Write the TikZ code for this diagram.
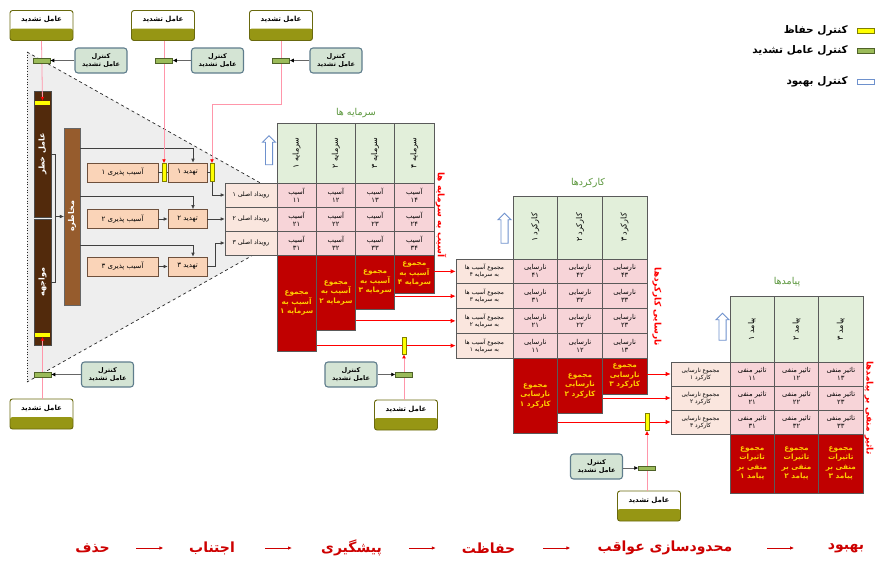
\documentclass[tikz,border=0pt]{standalone}
\usepackage{fontspec}
\usepackage{graphicx}
\usepackage{tikz}
\usetikzlibrary{arrows.meta,shapes.arrows,calc}
\newfontfamily\farsi[Script=Arabic]{DejaVu Sans}
\TeXXeTstate=1

\definecolor{olivebar}{RGB}{150,150,20}
\definecolor{ctrlfill}{RGB}{212,228,212}
\definecolor{ctrldraw}{RGB}{95,125,140}
\definecolor{gbarfill}{RGB}{155,187,89}
\definecolor{gbardraw}{RGB}{79,98,40}
\definecolor{ybarfill}{RGB}{255,255,0}
\definecolor{ybardraw}{RGB}{128,128,0}
\definecolor{hdrgreen}{RGB}{226,239,218}
\definecolor{cellpink}{RGB}{247,212,216}
\definecolor{sumred}{RGB}{192,0,0}
\definecolor{sumtxt}{RGB}{255,204,0}
\definecolor{lblpeach}{RGB}{250,230,222}
\definecolor{boxpeach}{RGB}{250,212,184}
\definecolor{boxdraw}{RGB}{110,80,60}
\definecolor{darkbrown}{RGB}{82,42,12}
\definecolor{midbrown}{RGB}{150,92,45}
\definecolor{trigray}{RGB}{238,238,238}
\definecolor{pinkline}{RGB}{255,150,170}
\definecolor{titlegreen}{RGB}{90,150,60}
\definecolor{bluearr}{RGB}{110,145,205}
\definecolor{gridgray}{RGB}{90,90,90}
\definecolor{botred}{RGB}{205,0,0}

\tikzset{
  tashdid/.style={draw=olivebar!70!black, line width=0.9pt, rounded corners=2.5pt, fill=white,
    minimum width=63, minimum height=30, inner sep=0, text height=5pt, text depth=13pt,
    font=\farsi\bfseries\fontsize{7}{8}\selectfont,
    path picture={\fill[olivebar] (path picture bounding box.south west) rectangle
      ($(path picture bounding box.south east)!0.4!(path picture bounding box.north east)$);}},
  ctrlbox/.style={draw=ctrldraw, line width=1.1pt, rounded corners=3pt, fill=ctrlfill,
    minimum width=52, minimum height=25, inner sep=0, align=center,
    font=\farsi\bfseries\fontsize{6.5}{8}\selectfont},
  gbar/.style={draw=gbardraw, line width=0.5pt, fill=gbarfill, minimum width=17, minimum height=4.5, inner sep=0},
  ybar/.style={draw=ybardraw, line width=0.5pt, fill=ybarfill, minimum width=4.5, minimum height=17, inner sep=0},
  ystripe/.style={fill=ybarfill, minimum width=15, minimum height=3.5, inner sep=0},
  brownbar/.style={draw=black!70, fill=darkbrown, text=white, minimum width=17, minimum height=126,
    inner sep=0, font=\farsi\bfseries\fontsize{8}{9}\selectfont},
  hazbar/.style={draw=black!60, fill=midbrown, text=white, minimum width=16, minimum height=177,
    inner sep=0, font=\farsi\bfseries\fontsize{8}{9}\selectfont},
  peachbox/.style={draw=boxdraw, line width=0.6pt, fill=boxpeach, minimum height=19, inner sep=0,
    font=\farsi\fontsize{7}{8}\selectfont},
  evcell/.style={draw=gridgray, line width=0.6pt, fill=lblpeach, minimum width=52, minimum height=24,
    inner sep=0, font=\farsi\fontsize{6.2}{7}\selectfont},
  hcell/.style={draw=gridgray, line width=0.6pt, fill=hdrgreen, inner sep=0, font=\farsi\fontsize{8}{9}\selectfont},
  pcell/.style={draw=gridgray, line width=0.6pt, fill=cellpink, inner sep=0, align=center,
    font=\farsi\fontsize{6.8}{8}\selectfont},
  lcell/.style={draw=gridgray, line width=0.6pt, fill=lblpeach, inner sep=0, align=center,
    font=\farsi\fontsize{5.8}{7}\selectfont},
  sumbox/.style={draw=gridgray, line width=0.6pt, fill=sumred, text=sumtxt, inner sep=0, align=center,
    font=\farsi\bfseries\fontsize{7.3}{9.5}\selectfont},
  ahcell/.style={hcell, minimum width=39.25, minimum height=60},
  apcell/.style={pcell, minimum width=39.25, minimum height=24},
  khcell/.style={hcell, minimum width=44.67, minimum height=63},
  kpcell/.style={pcell, minimum width=44.67, minimum height=24.75},
  phcell/.style={hcell, minimum width=44.33, minimum height=66},
  ppcell/.style={pcell, minimum width=44.33, minimum height=24},
  ttl/.style={text=titlegreen, font=\farsi\fontsize{9.5}{10}\selectfont},
  sidelbl/.style={text=red, font=\farsi\bfseries\fontsize{9}{10}\selectfont},
  bahbood/.style={single arrow, draw=bluearr, line width=0.8pt, fill=white, shape border rotate=90,
    inner sep=3.2pt, minimum height=29, minimum width=13, single arrow head extend=3pt},
  redarr/.style={draw=red, line width=0.8pt, -{Latex[length=5pt,width=4.5pt]}},
  pinkarr/.style={draw=pinkline, line width=0.8pt, -{Latex[color=red,length=4pt,width=4pt]}},
  blkarr/.style={draw=black!75, line width=0.6pt, -{Latex[length=4pt,width=3.5pt]}},
  ctrlarr/.style={draw=black!60, line width=0.6pt, -{Latex[color=black,length=4pt,width=4pt]}},
  botword/.style={text=botred, font=\farsi\bfseries\fontsize{14}{15}\selectfont},
  botarr/.style={draw=botred, line width=0.8pt, -{Latex[length=4pt,width=3.5pt]}},
  legtxt/.style={anchor=east, font=\farsi\bfseries\fontsize{10.5}{11}\selectfont}
}

\begin{document}
\begin{tikzpicture}[x=1pt,y=1pt,yscale=-1,xscale=1]
\useasboundingbox (0,0) rectangle (875,562);

%Shape: gray wedge
\fill[trigray] (27,52) -- (321,217) -- (27,382) -- cycle;
\draw[dashed, gray!30!black, line width=0.7pt] (27,52) -- (321,217) -- (27,382);
\draw[dotted, gray!30!black, line width=0.7pt] (27,52) -- (27,382);

% aggravating factors
\node[tashdid] (agg1) at (41.5,25.5) {\beginR عامل تشدید\endR};
\node[tashdid] (agg2) at (163,25.5) {\beginR عامل تشدید\endR};
\node[tashdid] (agg3) at (281,25.5) {\beginR عامل تشدید\endR};
\node[tashdid] (agg4) at (41.5,414) {\beginR عامل تشدید\endR};
\node[tashdid] (agg5) at (406,415) {\beginR عامل تشدید\endR};
\node[tashdid] (agg6) at (649,506) {\beginR عامل تشدید\endR};

% controls of aggravating factors
\node[ctrlbox] (ctrl1) at (101,60.5) {\beginR کنترل\endR\\\beginR عامل تشدید\endR};
\node[ctrlbox] (ctrl2) at (217.5,60.5) {\beginR کنترل\endR\\\beginR عامل تشدید\endR};
\node[ctrlbox] (ctrl3) at (336,60.5) {\beginR کنترل\endR\\\beginR عامل تشدید\endR};
\node[ctrlbox] (ctrl4) at (107.5,374.5) {\beginR کنترل\endR\\\beginR عامل تشدید\endR};
\node[ctrlbox] (ctrl5) at (351,374.5) {\beginR کنترل\endR\\\beginR عامل تشدید\endR};
\node[ctrlbox] (ctrl6) at (596.5,466.5) {\beginR کنترل\endR\\\beginR عامل تشدید\endR};

% risk factor, exposure, hazard
\node[brownbar] (riskf) at (42.5,154) {\rotatebox{90}{\beginR عامل خطر\endR}};
\node[brownbar] (expo) at (42.5,282) {\rotatebox{90}{\beginR مواجهه\endR}};
\node[ystripe] (ys1) at (42.5,102.75) {};
\node[ystripe] (ys2) at (42.5,334.75) {};
\node[hazbar] (haz) at (72,216.5) {\rotatebox{90}{\beginR مخاطره\endR}};

% vulnerabilities and threats
\node[peachbox, minimum width=71] (vul1) at (122.5,172.5) {\beginR آسیب پذیری ۱\endR};
\node[peachbox, minimum width=71] (vul2) at (122.5,219) {\beginR آسیب پذیری ۲\endR};
\node[peachbox, minimum width=71] (vul3) at (122.5,266.5) {\beginR آسیب پذیری ۳\endR};
\node[peachbox, minimum width=39] (thr1) at (187.5,172.5) {\beginR تهدید ۱\endR};
\node[peachbox, minimum width=39] (thr2) at (187.5,219) {\beginR تهدید ۲\endR};
\node[peachbox, minimum width=39] (thr3) at (187.5,266.5) {\beginR تهدید ۳\endR};
\node[ybar, minimum height=18] (yb1) at (164,172.5) {};
\node[ybar, minimum height=18] (yb2) at (212,172.5) {};

% main events
\node[evcell] (ev1) at (251,195) {\beginR رویداد اصلی ۱\endR};
\node[evcell] (ev2) at (251,219) {\beginR رویداد اصلی ۲\endR};
\node[evcell] (ev3) at (251,243) {\beginR رویداد اصلی ۳\endR};

% assets table
\node[ttl] (tas) at (356,113) {\beginR سرمایه ها\endR};
\node[ahcell] (ah1) at (296.63,153) {\rotatebox{90}{\beginR سرمایه ۱\endR}};
\node[ahcell] (ah2) at (335.88,153) {\rotatebox{90}{\beginR سرمایه ۲\endR}};
\node[ahcell] (ah3) at (375.13,153) {\rotatebox{90}{\beginR سرمایه ۳\endR}};
\node[ahcell] (ah4) at (414.38,153) {\rotatebox{90}{\beginR سرمایه ۴\endR}};
\node[apcell] (a11) at (296.63,195) {\beginR آسیب\endR\\\beginR ۱۱\endR};
\node[apcell] (a12) at (335.88,195) {\beginR آسیب\endR\\\beginR ۱۲\endR};
\node[apcell] (a13) at (375.13,195) {\beginR آسیب\endR\\\beginR ۱۳\endR};
\node[apcell] (a14) at (414.38,195) {\beginR آسیب\endR\\\beginR ۱۴\endR};
\node[apcell] (a21) at (296.63,219) {\beginR آسیب\endR\\\beginR ۲۱\endR};
\node[apcell] (a22) at (335.88,219) {\beginR آسیب\endR\\\beginR ۲۲\endR};
\node[apcell] (a23) at (375.13,219) {\beginR آسیب\endR\\\beginR ۲۳\endR};
\node[apcell] (a24) at (414.38,219) {\beginR آسیب\endR\\\beginR ۲۴\endR};
\node[apcell] (a31) at (296.63,243) {\beginR آسیب\endR\\\beginR ۳۱\endR};
\node[apcell] (a32) at (335.88,243) {\beginR آسیب\endR\\\beginR ۳۲\endR};
\node[apcell] (a33) at (375.13,243) {\beginR آسیب\endR\\\beginR ۳۳\endR};
\node[apcell] (a34) at (414.38,243) {\beginR آسیب\endR\\\beginR ۳۴\endR};
\node[sumbox, minimum width=39.25, minimum height=96] (as1) at (296.63,303) {\beginR مجموع\endR\\\beginR آسیب به\endR\\\beginR سرمایه ۱\endR};
\node[sumbox, minimum width=39.25, minimum height=75] (as2) at (335.88,292.5) {\beginR مجموع\endR\\\beginR آسیب به\endR\\\beginR سرمایه ۲\endR};
\node[sumbox, minimum width=39.25, minimum height=54] (as3) at (375.13,282) {\beginR مجموع\endR\\\beginR آسیب به\endR\\\beginR سرمایه ۳\endR};
\node[sumbox, minimum width=39.25, minimum height=38] (as4) at (414.38,274) {\beginR مجموع\endR\\\beginR آسیب به\endR\\\beginR سرمایه ۴\endR};
\node[sidelbl] (asl) at (441,215) {\rotatebox{-90}{\beginR آسیب به سرمایه ها\endR}};
\node[bahbood] (bl1) at (269,152) {};

% functions table
\node[ttl] (tkk) at (588,183) {\beginR کارکردها\endR};
\node[khcell] (kh1) at (535.33,227.5) {\rotatebox{90}{\beginR کارکرد ۱\endR}};
\node[khcell] (kh2) at (580,227.5) {\rotatebox{90}{\beginR کارکرد ۲\endR}};
\node[khcell] (kh3) at (624.67,227.5) {\rotatebox{90}{\beginR کارکرد ۳\endR}};
\node[lcell, minimum width=57, minimum height=24.75] (kr1) at (484.5,271.38) {\beginR مجموع آسیب ها\endR\\\beginR به سرمایه ۴\endR};
\node[lcell, minimum width=57, minimum height=24.75] (kr2) at (484.5,296.13) {\beginR مجموع آسیب ها\endR\\\beginR به سرمایه ۳\endR};
\node[lcell, minimum width=57, minimum height=24.75] (kr3) at (484.5,320.88) {\beginR مجموع آسیب ها\endR\\\beginR به سرمایه ۲\endR};
\node[lcell, minimum width=57, minimum height=24.75] (kr4) at (484.5,345.63) {\beginR مجموع آسیب ها\endR\\\beginR به سرمایه ۱\endR};
\node[kpcell] (k11) at (535.33,271.38) {\beginR نارسایی\endR\\\beginR ۴۱\endR};
\node[kpcell] (k12) at (580,271.38) {\beginR نارسایی\endR\\\beginR ۴۲\endR};
\node[kpcell] (k13) at (624.67,271.38) {\beginR نارسایی\endR\\\beginR ۴۳\endR};
\node[kpcell] (k21) at (535.33,296.13) {\beginR نارسایی\endR\\\beginR ۳۱\endR};
\node[kpcell] (k22) at (580,296.13) {\beginR نارسایی\endR\\\beginR ۳۲\endR};
\node[kpcell] (k23) at (624.67,296.13) {\beginR نارسایی\endR\\\beginR ۳۳\endR};
\node[kpcell] (k31) at (535.33,320.88) {\beginR نارسایی\endR\\\beginR ۲۱\endR};
\node[kpcell] (k32) at (580,320.88) {\beginR نارسایی\endR\\\beginR ۲۲\endR};
\node[kpcell] (k33) at (624.67,320.88) {\beginR نارسایی\endR\\\beginR ۲۳\endR};
\node[kpcell] (k41) at (535.33,345.63) {\beginR نارسایی\endR\\\beginR ۱۱\endR};
\node[kpcell] (k42) at (580,345.63) {\beginR نارسایی\endR\\\beginR ۱۲\endR};
\node[kpcell] (k43) at (624.67,345.63) {\beginR نارسایی\endR\\\beginR ۱۳\endR};
\node[sumbox, minimum width=44.67, minimum height=75] (ks1) at (535.33,395.5) {\beginR مجموع\endR\\\beginR نارسایی\endR\\\beginR کارکرد ۱\endR};
\node[sumbox, minimum width=44.67, minimum height=55] (ks2) at (580,385.5) {\beginR مجموع\endR\\\beginR نارسایی\endR\\\beginR کارکرد ۲\endR};
\node[sumbox, minimum width=44.67, minimum height=36] (ks3) at (624.67,376) {\beginR مجموع\endR\\\beginR نارسایی\endR\\\beginR کارکرد ۳\endR};
\node[sidelbl] (ksl) at (657,307) {\rotatebox{-90}{\beginR نارسایی کارکردها\endR}};
\node[bahbood, minimum height=30] (bl2) at (504.5,230) {};

% consequences table
\node[ttl] (tpm) at (787,282) {\beginR پیامدها\endR};
\node[phcell] (ph1) at (752.17,329) {\rotatebox{90}{\beginR پیامد ۱\endR}};
\node[phcell] (ph2) at (796.5,329) {\rotatebox{90}{\beginR پیامد ۲\endR}};
\node[phcell] (ph3) at (840.83,329) {\rotatebox{90}{\beginR پیامد ۳\endR}};
\node[lcell, minimum width=59, minimum height=24] (pr1) at (700.5,374) {\beginR مجموع نارسایی\endR\\\beginR کارکرد ۱\endR};
\node[lcell, minimum width=59, minimum height=24] (pr2) at (700.5,398) {\beginR مجموع نارسایی\endR\\\beginR کارکرد ۲\endR};
\node[lcell, minimum width=59, minimum height=24] (pr3) at (700.5,422) {\beginR مجموع نارسایی\endR\\\beginR کارکرد ۳\endR};
\node[ppcell] (p11) at (752.17,374) {\beginR تاثیر منفی\endR\\\beginR ۱۱\endR};
\node[ppcell] (p12) at (796.5,374) {\beginR تاثیر منفی\endR\\\beginR ۱۲\endR};
\node[ppcell] (p13) at (840.83,374) {\beginR تاثیر منفی\endR\\\beginR ۱۳\endR};
\node[ppcell] (p21) at (752.17,398) {\beginR تاثیر منفی\endR\\\beginR ۲۱\endR};
\node[ppcell] (p22) at (796.5,398) {\beginR تاثیر منفی\endR\\\beginR ۲۲\endR};
\node[ppcell] (p23) at (840.83,398) {\beginR تاثیر منفی\endR\\\beginR ۲۳\endR};
\node[ppcell] (p31) at (752.17,422) {\beginR تاثیر منفی\endR\\\beginR ۳۱\endR};
\node[ppcell] (p32) at (796.5,422) {\beginR تاثیر منفی\endR\\\beginR ۳۲\endR};
\node[ppcell] (p33) at (840.83,422) {\beginR تاثیر منفی\endR\\\beginR ۳۳\endR};
\node[sumbox, minimum width=44.33, minimum height=59] (ps1) at (752.17,463.5) {\beginR مجموع\endR\\\beginR تاثیرات\endR\\\beginR منفی بر\endR\\\beginR پیامد ۱\endR};
\node[sumbox, minimum width=44.33, minimum height=59] (ps2) at (796.5,463.5) {\beginR مجموع\endR\\\beginR تاثیرات\endR\\\beginR منفی بر\endR\\\beginR پیامد ۲\endR};
\node[sumbox, minimum width=44.33, minimum height=59] (ps3) at (840.83,463.5) {\beginR مجموع\endR\\\beginR تاثیرات\endR\\\beginR منفی بر\endR\\\beginR پیامد ۳\endR};
\node[sidelbl] (psl) at (869,408) {\rotatebox{-90}{\beginR تاثیر منفی بر پیامدها\endR}};
\node[bahbood, minimum height=27, minimum width=12] (bl3) at (722.5,328.5) {};

% black connectors
\draw[blkarr] (riskf.east) -- ++(4,0) |- (haz.west);
\draw[blkarr] (expo.east) -- ++(4,0) |- (haz.west);
\draw[blkarr] (haz.east |- 0,148) -| ([xshift=5.5pt]thr1.north);
\draw[blkarr] (haz.east |- 0,196) -| ([xshift=5.5pt]thr2.north);
\draw[blkarr] (haz.east |- 0,245) -| ([xshift=5.5pt]thr3.north);
\draw[black!75, line width=0.6pt] (vul1.east) -- (yb1.west) (yb1.east) -- (thr1.west) (thr1.east) -- (yb2.west);
\draw[blkarr] (yb2.south) |- (ev1.west);
\draw[blkarr] (vul2) -- (thr2);
\draw[blkarr] (thr2) -- (ev2);
\draw[blkarr] (vul3) -- (thr3);
\draw[blkarr] (thr3.east) -- ++(8,0) |- (ev3.west);

% aggravating lines
\draw[pinkarr] (agg1.south) -- (ys1.north);
\draw[pinkarr] (yb1.north |- agg2.south) -- (yb1.north);
\draw[pinkarr] (agg3.south) -- ++(0,63) -| (yb2.north);
\draw[pinkarr] (ys2.south |- agg4.north) -- (ys2.south);

% sums to next tables
\draw[redarr] (as4.east |- kr1.west) -- (kr1.west);
\draw[redarr] (as3.east |- kr2.west) -- (kr2.west);
\draw[redarr] (as2.east |- kr3.west) -- (kr3.west);
\draw[redarr] (as1.east |- kr4.west) -- (kr4.west);
\node[ybar] (yb3) at (404,345.63) {};
\draw[pinkarr] (yb3.south |- agg5.north) -- (yb3.south);
\draw[redarr] (ks3.east |- pr1.west) -- (pr1.west);
\draw[redarr] (ks2.east |- pr2.west) -- (pr2.west);
\draw[redarr] (ks1.east |- pr3.west) -- (pr3.west);
\node[ybar] (yb4) at (647,422) {};
\draw[pinkarr] (yb4.south |- agg6.north) -- (yb4.south);

% aggravating controls
\node[gbar] (gb1) at (41.5,60.5) {};
\node[gbar] (gb2) at (164,60.5) {};
\node[gbar] (gb3) at (281,60.5) {};
\node[gbar] (gb4) at (42.5,374.5) {};
\node[gbar] (gb5) at (404,374.5) {};
\node[gbar] (gb6) at (647,468) {};
\draw[ctrlarr] (ctrl1.west) -- (gb1.east);
\draw[ctrlarr] (ctrl2.west) -- (gb2.east);
\draw[ctrlarr] (ctrl3.west) -- (gb3.east);
\draw[ctrlarr] (ctrl4.west) -- (gb4.east);
\draw[ctrlarr] (ctrl5.east) -- (gb5.west);
\draw[ctrlarr] (ctrl6.east |- gb6.west) -- (gb6.west);

% legend
\node[ybar, minimum width=17, minimum height=5] (lgy) at (866,30.5) {};
\node[gbar, minimum height=5] (lgg) at (866,50.5) {};
\node[draw=bluearr, line width=0.7pt, fill=white, minimum width=17, minimum height=5, inner sep=0] (lgb) at (866,82) {};
\node[legtxt] (lgyt) at ([xshift=-6pt]lgy.west) {\beginR کنترل حفاظ\endR};
\node[legtxt] (lggt) at ([xshift=-6pt]lgg.west) {\beginR کنترل عامل تشدید\endR};
\node[legtxt] (lgbt) at ([xshift=-6pt]lgb.west) {\beginR کنترل بهبود\endR};

% hierarchy row
\node[botword] (w1) at (92.5,548) {\beginR حذف\endR};
\node[botword] (w2) at (212,548) {\beginR اجتناب\endR};
\node[botword] (w3) at (351.5,548) {\beginR پیشگیری\endR};
\node[botword] (w4) at (488.5,548) {\beginR حفاظت\endR};
\node[botword] (w5) at (665,548) {\beginR محدودسازی عواقب\endR};
\node[botword] (w6) at (846,548) {\beginR بهبود\endR};
\draw[botarr] ($(w1.east)!0.5!(w2.west)-(13,0)$) -- ++(27,0);
\draw[botarr] ($(w2.east)!0.5!(w3.west)-(13,0)$) -- ++(27,0);
\draw[botarr] ($(w3.east)!0.5!(w4.west)-(13,0)$) -- ++(27,0);
\draw[botarr] ($(w4.east)!0.5!(w5.west)-(13,0)$) -- ++(27,0);
\draw[botarr] ($(w5.east)!0.5!(w6.west)-(13,0)$) -- ++(27,0);

\end{tikzpicture}
\end{document}
